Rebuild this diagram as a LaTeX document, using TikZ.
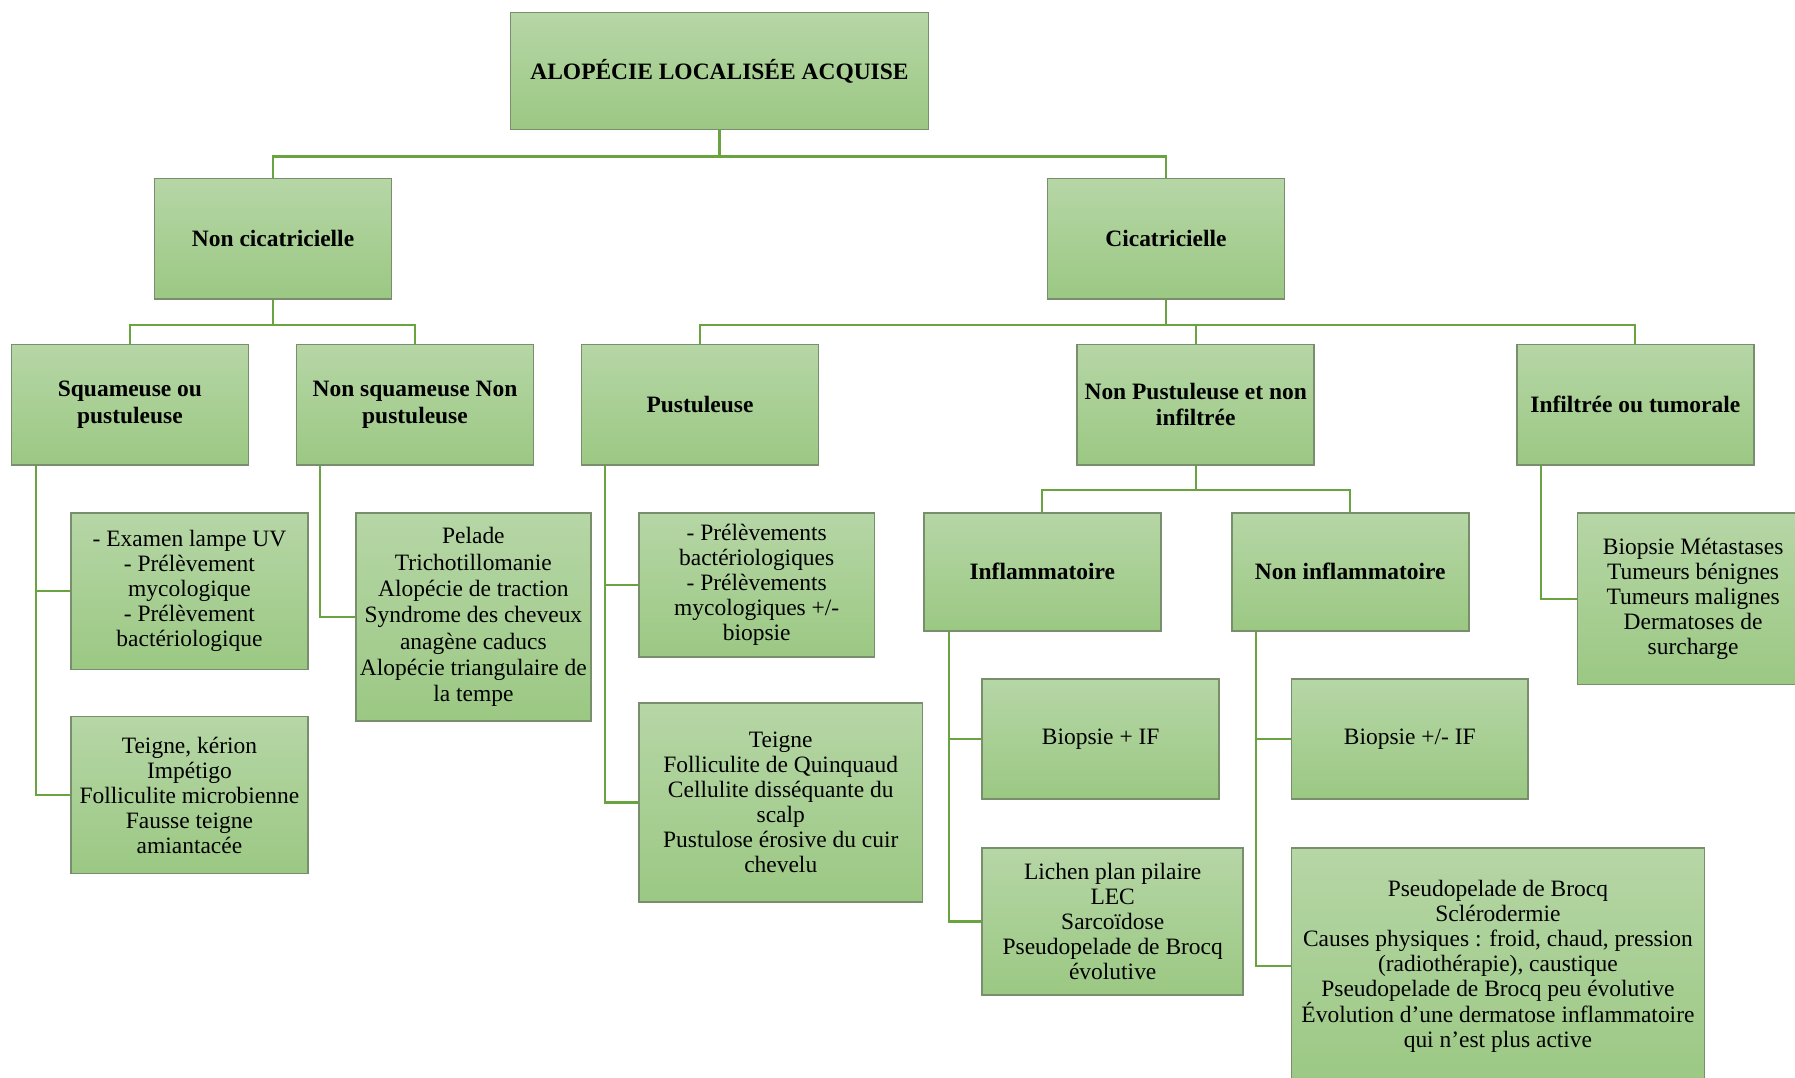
\documentclass[tikz,border=0pt]{standalone}
\usepackage{fontspec}
\setmainfont{Liberation Serif}
\usetikzlibrary{calc}
\definecolor{boxtop}{RGB}{182,214,166}
\definecolor{boxbot}{RGB}{155,200,131}
\definecolor{boxline}{RGB}{120,142,108}
\definecolor{conn}{RGB}{106,164,64}
\begin{document}
\begin{tikzpicture}[x=1pt,y=-1pt,
  gbox/.style={draw=boxline, line width=1.4pt, top color=boxtop, bottom color=boxbot, inner sep=0pt, align=center, font=\fontsize{20.5}{21.8}\selectfont},
  head/.style={gbox, font=\fontsize{20.5}{23}\selectfont\bfseries, minimum width=207pt, minimum height=105pt},
  link/.style={draw=conn, line width=1.9pt}]
\useasboundingbox (0,0) rectangle (1568,941);
\clip (0,0) rectangle (1568,941);
% headings
\node[head, minimum width=365pt, minimum height=102pt] (top) at (628.5,62) {ALOPÉCIE LOCALISÉE ACQUISE};
\node[head] (nc) at (238.5,208.5) {Non cicatricielle};
\node[head] (cic) at (1018.5,208.5) {Cicatricielle};
\node[head] (sq) at (113.5,353.5) {Squameuse ou\\pustuleuse};
\node[head] (nsq) at (362.5,353.5) {Non squameuse Non\\pustuleuse};
\node[head] (pus) at (611.5,353.5) {Pustuleuse};
\node[head] (npi) at (1044.5,353.5) {Non Pustuleuse et non\\infiltrée};
\node[head] (inf) at (1428.5,353.5) {Infiltrée ou tumorale};
\node[head, minimum height=103pt] (infl) at (910.5,499.5) {Inflammatoire};
\node[head, minimum height=103pt] (ninf) at (1179.5,499.5) {Non inflammatoire};
% leaves
\node[gbox, minimum width=207pt, minimum height=137pt] (exam) at (165.5,516.5) {- Examen lampe UV\\- Prélèvement\\mycologique\\- Prélèvement\\bactériologique};
\node[gbox, minimum width=207pt, minimum height=137pt] (teigneA) at (165.5,694.5) {Teigne, kérion\\Impétigo\\Folliculite microbienne\\Fausse teigne\\amiantacée};
\node[gbox, minimum width=205pt, minimum height=182pt, font=\fontsize{20.5}{23}\selectfont] (pelade) at (413.5,539) {Pelade\\Trichotillomanie\\Alopécie de traction\\Syndrome des cheveux\\anagène caducs\\Alopécie triangulaire de\\la tempe};
\node[gbox, minimum width=206pt, minimum height=126pt] (prel) at (661,511) {- Prélèvements\\bactériologiques\\- Prélèvements\\mycologiques +/-\\biopsie};
\node[gbox, minimum width=248pt, minimum height=174pt] (teigneB) at (682,701) {Teigne\\Folliculite de Quinquaud\\Cellulite disséquante du\\scalp\\Pustulose érosive du cuir\\chevelu};
\node[gbox, minimum width=207pt, minimum height=105pt] (bif) at (961.5,645.5) {Biopsie + IF};
\node[gbox, minimum width=228pt, minimum height=128pt] (lichen) at (972,805) {Lichen plan pilaire\\LEC\\Sarcoïdose\\Pseudopelade de Brocq\\évolutive};
\node[gbox, minimum width=207pt, minimum height=105pt] (bifB) at (1231.5,645.5) {Biopsie +/- IF};
\node[gbox, minimum width=361pt, minimum height=206pt] (pseudo) at (1308.5,844) {Pseudopelade de Brocq\\Sclérodermie\\Causes physiques : froid, chaud, pression\\(radiothérapie), caustique\\Pseudopelade de Brocq peu évolutive\\Évolution d’une dermatose inflammatoire\\qui n’est plus active};
\node[gbox, minimum width=202pt, minimum height=150pt] (biop) at (1479,523) {Biopsie Métastases\\Tumeurs bénignes\\Tumeurs malignes\\Dermatoses de\\surcharge};
% tree connectors
\draw[link] (top.south) -- ++(0,23) -| (nc.north);
\draw[link] (top.south) -- ++(0,23) -| (cic.north);
\draw[link] (nc.south) -- ++(0,22) -| (sq.north);
\draw[link] (nc.south) -- ++(0,22) -| (nsq.north);
\draw[link] (cic.south) -- ++(0,22) -| (pus.north);
\draw[link] (cic.south) -- ++(0,22) -| (npi.north);
\draw[link] (cic.south) -- ++(0,22) -| (inf.north);
\draw[link] (npi.south) -- ++(0,21) -| (infl.north);
\draw[link] (npi.south) -- ++(0,21) -| (ninf.north);
% side connectors
\draw[link] ($(sq.south west)+(22,0)$) |- (exam.west);
\draw[link] ($(sq.south west)+(22,0)$) |- (teigneA.west);
\draw[link] ($(nsq.south west)+(21,0)$) |- (pelade.west);
\draw[link] ($(pus.south west)+(21,0)$) |- (prel.west);
\draw[link] ($(pus.south west)+(21,0)$) |- (teigneB.west);
\draw[link] ($(infl.south west)+(23,0)$) |- (bif.west);
\draw[link] ($(infl.south west)+(23,0)$) |- (lichen.west);
\draw[link] ($(ninf.south west)+(22,0)$) |- (bifB.west);
\draw[link] ($(ninf.south west)+(22,0)$) |- (pseudo.west);
\draw[link] ($(inf.south west)+(22,0)$) |- (biop.west);
\end{tikzpicture}
\end{document}
